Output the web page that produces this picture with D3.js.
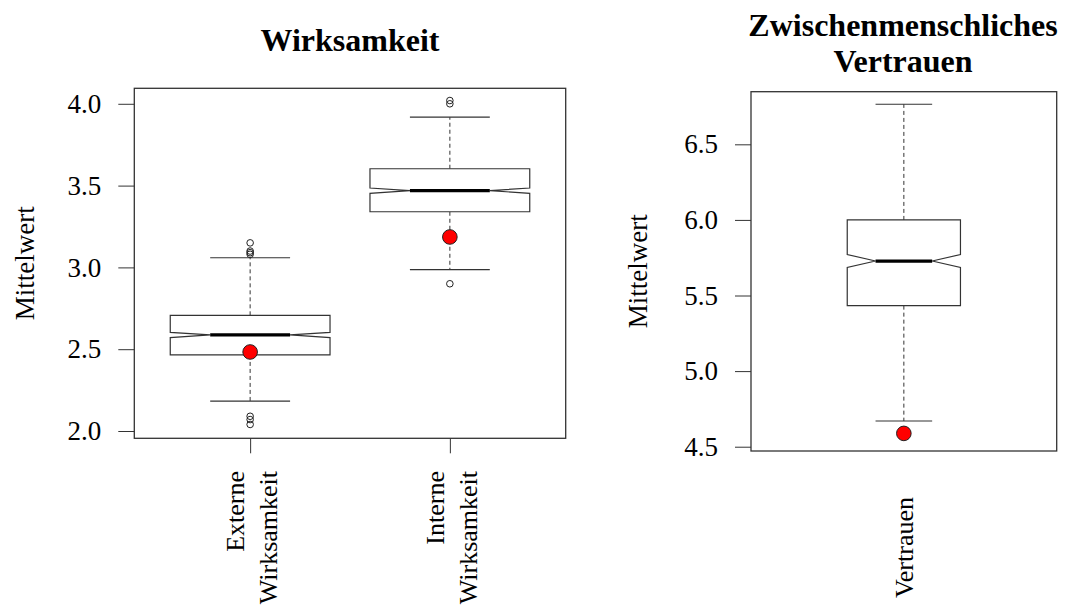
<!DOCTYPE html>
<html>
<head>
<meta charset="utf-8">
<script src="https://cdn.jsdelivr.net/npm/d3@7"></script>
<style>
body { margin: 0; background: #fff; }
text { font-family: "Liberation Serif", "Times New Roman", serif; fill: #000; }
</style>
</head>
<body>
<script>
// ----- Wirksamkeit (left panel) -----
const wirkCategories = ["Externe|Wirksamkeit", "Interne|Wirksamkeit"];
const wirkLower   = [2.183, 2.986];
const wirkQ1      = [2.465, 3.340];
const wirkMedian  = [2.587, 3.469];
const wirkQ3      = [2.707, 3.603];
const wirkUpper   = [3.059, 3.918];
const wirkNotch   = [0.016, 0.016];
const wirkMeans   = [2.483, 3.186];
const wirkOutliers = [[3.15, 3.10, 3.09, 3.08, 2.09, 2.07, 2.04], [4.02, 4.00, 2.90]];
const wirkTicks   = [2.0, 2.5, 3.0, 3.5, 4.0];

// ----- Zwischenmenschliches Vertrauen (right panel) -----
const vertCategories = ["Vertrauen"];
const vertLower   = [4.670];
const vertQ1      = [5.433];
const vertMedian  = [5.728];
const vertQ3      = [6.000];
const vertUpper   = [6.765];
const vertNotch   = [0.043];
const vertMeans   = [4.588];
const vertOutliers = [[]];
const vertTicks   = [4.5, 5.0, 5.5, 6.0, 6.5];

const W = 1065, H = 606;

const svg = d3.select("body")
    .append("svg")
    .attr("width", W)
    .attr("height", H);

function drawPanel(cfg, d){

    const x = d3.scaleLinear().domain(cfg.xDomain).range([cfg.left, cfg.right]);
    const y = d3.scaleLinear().domain(cfg.yDomain).range([cfg.bottom, cfg.top]);
    const g = svg.append("g");

    // Title
    const title = g.append("text")
        .attr("x", cfg.titleX)
        .attr("text-anchor", "middle")
        .style("font-size", "32px")
        .style("font-weight", "bold");
    cfg.titleLines.forEach((t, i) => {
        title.append("tspan")
            .attr("x", cfg.titleX)
            .attr("y", cfg.titleY[i])
            .text(t);
    });

    // y axis
    g.append("g")
        .attr("transform", "translate(" + cfg.left + ",0)")
        .call(d3.axisLeft(y).tickValues(d.ticks).tickFormat(d3.format(".1f"))
            .tickSize(16).tickSizeOuter(0).tickPadding(17))
        .call(a => a.select(".domain").remove())
        .call(a => a.selectAll("line").attr("stroke", "#333"))
        .call(a => a.selectAll("text")
            .style("font-size", "27px")
            .style("font-family", "Liberation Serif, serif")
            .attr("fill", "#000"));

    // x axis ticks
    if (cfg.xTicks) {
        g.append("g")
            .attr("transform", "translate(0," + cfg.bottom + ")")
            .call(d3.axisBottom(x).tickValues(d.categories.map((c, i) => i + 1))
                .tickFormat("").tickSize(15).tickSizeOuter(0))
            .call(a => a.select(".domain").remove())
            .call(a => a.selectAll("line").attr("stroke", "#333"));
    }

    // y label, centred on the plot region
    g.append("text")
        .attr("transform", "translate(" + cfg.ylabX + "," + (cfg.top + cfg.bottom) / 2 + ") rotate(-90)")
        .attr("text-anchor", "middle")
        .style("font-size", "27px")
        .text("Mittelwert");

    // category labels
    d.categories.forEach((c, i) => {
        const lines = c.split("|");
        const t = g.append("text")
            .attr("transform", "translate(" + x(i + 1) + "," + cfg.catTop + ") rotate(-90)")
            .attr("text-anchor", "end")
            .style("font-size", "26px");
        lines.forEach((l, j) => {
            t.append("tspan")
                .attr("x", 0)
                .attr("y", cfg.catOffsets[j])
                .text(l);
        });
    });

    // boxes
    const hw = cfg.halfWidth;
    d.categories.forEach((c, i) => {
        const cx = x(i + 1);
        const lo = x(i + 1 - hw), hi = x(i + 1 + hw);
        const nlo = x(i + 1 - hw / 2), nhi = x(i + 1 + hw / 2);

        // whiskers
        g.append("line")
            .attr("x1", cx).attr("x2", cx)
            .attr("y1", y(d.q3[i])).attr("y2", y(d.upper[i]))
            .attr("stroke", "#333").attr("stroke-dasharray", "4,3");
        g.append("line")
            .attr("x1", cx).attr("x2", cx)
            .attr("y1", y(d.q1[i])).attr("y2", y(d.lower[i]))
            .attr("stroke", "#333").attr("stroke-dasharray", "4,3");
        [d.upper[i], d.lower[i]].forEach(v => {
            g.append("line")
                .attr("x1", nlo).attr("x2", nhi)
                .attr("y1", y(v)).attr("y2", y(v))
                .attr("stroke", "#333").attr("stroke-width", 1.2);
        });

        // notched box
        const m = d.median[i], n = d.notch[i];
        const pts = [
            [lo, y(d.q3[i])], [hi, y(d.q3[i])], [hi, y(m + n)], [nhi, y(m)],
            [hi, y(m - n)], [hi, y(d.q1[i])], [lo, y(d.q1[i])], [lo, y(m - n)],
            [nlo, y(m)], [lo, y(m + n)]
        ];
        g.append("path")
            .attr("d", "M" + pts.map(p => p.join(",")).join("L") + "Z")
            .attr("fill", "#fff")
            .attr("stroke", "#333")
            .attr("stroke-width", 1.2);

        // median
        g.append("line")
            .attr("x1", nlo).attr("x2", nhi)
            .attr("y1", y(m)).attr("y2", y(m))
            .attr("stroke", "#000").attr("stroke-width", 3.2);

        // outliers
        g.selectAll(null)
            .data(d.outliers[i])
            .enter()
            .append("circle")
            .attr("cx", cx)
            .attr("cy", v => y(v))
            .attr("r", 3.3)
            .attr("fill", "none")
            .attr("stroke", "#222");

        // mean
        g.append("circle")
            .attr("cx", cx)
            .attr("cy", y(d.means[i]))
            .attr("r", 7.3)
            .attr("fill", "#ff0000")
            .attr("stroke", "#222");
    });

    // border
    g.append("rect")
        .attr("x", cfg.left).attr("y", cfg.top)
        .attr("width", cfg.right - cfg.left)
        .attr("height", cfg.bottom - cfg.top)
        .attr("fill", "none")
        .attr("stroke", "#333")
        .attr("stroke-width", 1.3);
}

drawPanel({
    left: 134.3, right: 565.7, top: 88.3, bottom: 438.3,
    xDomain: [0.42, 2.58], yDomain: [1.9554, 4.0947],
    halfWidth: 0.4, xTicks: true,
    titleLines: ["Wirksamkeit"], titleX: 350, titleY: [51],
    ylabX: 34,
    catTop: 471, catOffsets: [-6, 27]
}, {
    categories: wirkCategories, lower: wirkLower, q1: wirkQ1, median: wirkMedian,
    q3: wirkQ3, upper: wirkUpper, notch: wirkNotch, means: wirkMeans,
    outliers: wirkOutliers, ticks: wirkTicks
});

drawPanel({
    left: 751, right: 1056.7, top: 91.7, bottom: 451,
    xDomain: [0.46, 1.54], yDomain: [4.4716, 6.848],
    halfWidth: 0.2, xTicks: false,
    titleLines: ["Zwischenmenschliches", "Vertrauen"], titleX: 903, titleY: [36, 72],
    ylabX: 647,
    catTop: 497, catOffsets: [9]
}, {
    categories: vertCategories, lower: vertLower, q1: vertQ1, median: vertMedian,
    q3: vertQ3, upper: vertUpper, notch: vertNotch, means: vertMeans,
    outliers: vertOutliers, ticks: vertTicks
});
</script>
</body>
</html>
